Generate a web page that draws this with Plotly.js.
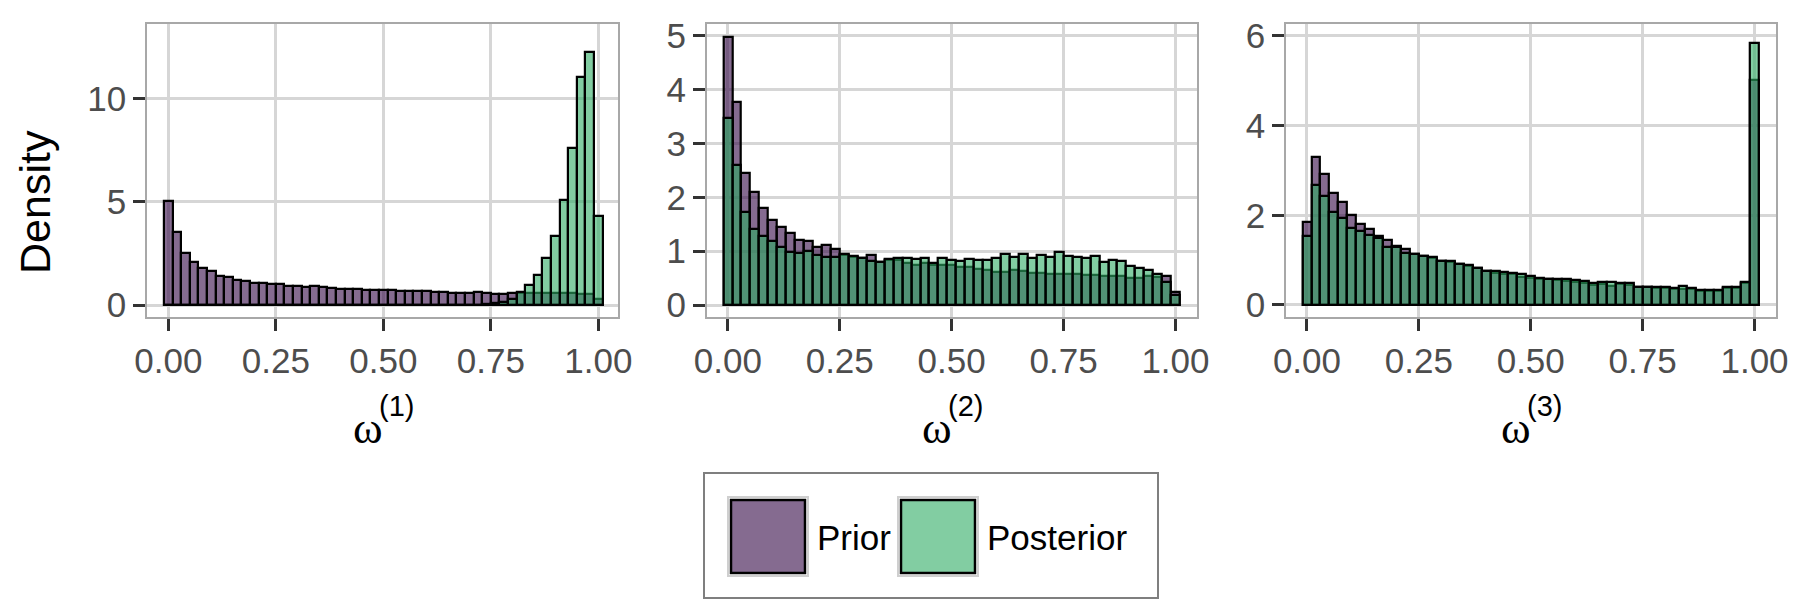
<!DOCTYPE html>
<html>
<head>
<meta charset="utf-8">
<script src="https://cdn.plot.ly/plotly-3.0.1.min.js"></script>
<style>html,body{margin:0;padding:0;background:#fff;}#chart{width:1800px;height:600px;}</style>
</head>
<body>
<div id="chart"></div>
<script>
// Bin centres (bin width 0.02)
const bins = [0,0.02,0.04,0.06,0.08,0.1,0.12,0.14,0.16,0.18,0.2,0.22,0.24,0.26,0.28,0.3,0.32,0.34,0.36,0.38,0.4,0.42,0.44,0.46,0.48,0.5,0.52,0.54,0.56,0.58,0.6,0.62,0.64,0.66,0.68,0.7,0.72,0.74,0.76,0.78,0.8,0.82,0.84,0.86,0.88,0.9,0.92,0.94,0.96,0.98,1];

// omega^(1)
const prior1 = [5.03,3.55,2.53,2.06,1.77,1.66,1.40,1.35,1.21,1.15,1.08,1.06,1.02,1.00,0.94,0.90,0.87,0.90,0.85,0.82,0.79,0.76,0.76,0.73,0.73,0.71,0.71,0.68,0.68,0.66,0.66,0.65,0.63,0.60,0.60,0.60,0.61,0.60,0.55,0.53,0.56,0.60,0.58,0.58,0.57,0.57,0.56,0.56,0.55,0.54,0.30];
const post1  = [0,0,0,0,0,0,0,0,0,0,0,0,0,0,0,0,0,0,0,0,0,0,0,0,0,0,0,0,0,0,0,0,0,0,0,0,0.02,0.04,0.08,0.16,0.30,0.65,0.97,1.45,2.26,3.34,5.08,7.60,11.02,12.23,4.32];

// omega^(2)
const prior2 = [4.97,3.77,2.45,2.09,1.80,1.57,1.45,1.34,1.20,1.19,1.07,1.11,1.04,0.92,0.90,0.88,0.93,0.80,0.84,0.83,0.78,0.75,0.78,0.74,0.74,0.74,0.71,0.71,0.67,0.65,0.62,0.61,0.65,0.63,0.59,0.60,0.57,0.57,0.57,0.57,0.56,0.56,0.53,0.54,0.53,0.51,0.50,0.53,0.52,0.54,0.25];
const post2  = [3.47,2.61,1.73,1.42,1.29,1.19,1.07,0.99,0.96,1.01,0.93,0.90,0.89,0.94,0.91,0.87,0.82,0.79,0.85,0.87,0.88,0.86,0.87,0.78,0.88,0.835,0.81,0.85,0.84,0.835,0.87,0.95,0.90,0.94,0.88,0.92,0.90,0.98,0.91,0.885,0.87,0.91,0.80,0.835,0.81,0.72,0.69,0.65,0.57,0.43,0.19];

// omega^(3)
const prior3 = [1.84,3.29,2.92,2.49,2.29,2.01,1.80,1.70,1.54,1.44,1.32,1.24,1.14,1.10,1.05,0.98,0.95,0.92,0.86,0.83,0.76,0.71,0.70,0.69,0.63,0.60,0.59,0.57,0.56,0.53,0.51,0.48,0.45,0.46,0.43,0.46,0.45,0.40,0.39,0.38,0.37,0.36,0.36,0.35,0.32,0.32,0.31,0.37,0.38,0.50,5.01];
const post3  = [1.54,2.68,2.42,2.07,1.93,1.71,1.64,1.55,1.49,1.30,1.30,1.15,1.14,1.10,1.06,0.97,0.98,0.91,0.89,0.83,0.76,0.75,0.74,0.72,0.68,0.65,0.61,0.58,0.58,0.58,0.56,0.54,0.50,0.52,0.51,0.48,0.48,0.41,0.41,0.39,0.39,0.37,0.43,0.37,0.33,0.33,0.33,0.39,0.41,0.52,5.85];

const seriesNames = ['Prior','Posterior'];
const axisSymbol = 'ω';
const axisSuper = ['(1)','(2)','(3)'];
const yLabel = 'Density';
const xTickVals = [0,0.25,0.5,0.75,1];
const xTickText = ['0.00','0.25','0.50','0.75','1.00'];
const yTicks1 = [0,5,10];
const yTicks2 = [0,1,2,3,4,5];
const yTicks3 = [0,2,4,6];

const PRIOR_FILL = 'rgba(52,8,70,0.6)';
const POST_FILL  = 'rgba(47,172,100,0.6)';
const W = 1800, H = 600;
const SANS = 'Liberation Sans, Arial, sans-serif';

const panels = [
  {p: prior1, q: post1, yt: yTicks1},
  {p: prior2, q: post2, yt: yTicks2},
  {p: prior3, q: post3, yt: yTicks3}
];

const traces = [];
panels.forEach((pn, i) => {
  const xa = i === 0 ? 'x' : 'x' + (i + 1);
  const ya = i === 0 ? 'y' : 'y' + (i + 1);
  traces.push({type:'bar', x: bins, y: pn.p, xaxis: xa, yaxis: ya, width: 0.02, name: seriesNames[0],
    showlegend: false, marker: {color: PRIOR_FILL, line: {color: '#000', width: 2.2}}, hoverinfo: 'x+y+name'});
  traces.push({type:'bar', x: bins, y: pn.q, xaxis: xa, yaxis: ya, width: 0.02, name: seriesNames[1],
    showlegend: false, marker: {color: POST_FILL, line: {color: '#000', width: 2.2}}, hoverinfo: 'x+y+name'});
});

// panel geometry in pixels
const geo = [
  {x0: 147, x1: 618, xr: [-0.0495, 1.0458], yr: [-0.58, 13.6]},
  {x0: 706.8, x1: 1196.5, xr: [-0.047, 1.047], yr: [-0.223, 5.22]},
  {x0: 1285.9, x1: 1776, xr: [-0.047, 1.048], yr: [-0.268, 6.265]}
];
const yTop = 24, yBot = 317;
const px = v => v / W, py = v => 1 - v / H;

const tickFont = {family: SANS, size: 35, color: '#4D4D4D'};
const layout = {
  width: W, height: H,
  margin: {l: 0, r: 0, t: 0, b: 0, pad: 0},
  paper_bgcolor: '#fff', plot_bgcolor: '#fff',
  barmode: 'overlay', bargap: 0,
  showlegend: false,
  font: {family: SANS, color: '#000'},
  annotations: [], shapes: []
};

geo.forEach((g, i) => {
  const sfx = i === 0 ? '' : String(i + 1);
  layout['xaxis' + sfx] = {
    domain: [g.x0 / W, g.x1 / W], range: g.xr, anchor: 'y' + sfx,
    tickvals: xTickVals, ticktext: xTickText,
    ticks: 'outside', ticklen: 12, tickwidth: 3, tickcolor: '#333333',
    showgrid: true, gridcolor: '#D6D6D6', gridwidth: 3.3, zeroline: false,
    showline: true, mirror: true, linecolor: '#A8A8A8', linewidth: 1.5,
    tickfont: tickFont, automargin: false
  };
  layout['yaxis' + sfx] = {
    domain: [1 - yBot / H, 1 - yTop / H], range: g.yr, anchor: 'x' + sfx,
    tickvals: panels[i].yt,
    ticks: 'outside', ticklen: 12, tickwidth: 3, tickcolor: '#333333',
    showgrid: true, gridcolor: '#D6D6D6', gridwidth: 3.3, zeroline: false,
    showline: true, mirror: true, linecolor: '#A8A8A8', linewidth: 1.5,
    tickfont: tickFont, automargin: false
  };
  // x-axis title: omega with a raised panel index
  const cx = (g.x0 + g.x1) / 2;
  layout.annotations.push({text: axisSymbol, xref: 'paper', yref: 'paper', x: px(cx + 1), y: py(428),
    xanchor: 'right', yanchor: 'middle', showarrow: false, borderpad: 0,
    font: {family: 'Liberation Serif, DejaVu Serif, serif', size: 45, color: '#000'}});
  layout.annotations.push({text: axisSuper[i], xref: 'paper', yref: 'paper', x: px(cx - 5), y: py(406),
    xanchor: 'left', yanchor: 'middle', showarrow: false, borderpad: 0,
    font: {family: SANS, size: 29, color: '#000'}});
});

// shared y label
layout.annotations.push({text: yLabel, xref: 'paper', yref: 'paper', x: px(35), y: py(202),
  xanchor: 'center', yanchor: 'middle', textangle: -90, showarrow: false,
  font: {family: SANS, size: 43, color: '#000'}});

// legend drawn as a boxed key row
layout.shapes.push({type: 'rect', xref: 'paper', yref: 'paper', x0: px(704), x1: px(1158), y0: py(598), y1: py(473),
  line: {color: '#7F7F7F', width: 2}, fillcolor: 'rgba(0,0,0,0)'});
const keys = [
  {x0: 731, fill: PRIOR_FILL, label: seriesNames[0], tx: 815},
  {x0: 901, fill: POST_FILL, label: seriesNames[1], tx: 985}
];
keys.forEach(k => {
  layout.shapes.push({type: 'rect', xref: 'paper', yref: 'paper', x0: px(k.x0 - 3), x1: px(k.x0 + 77), y0: py(576), y1: py(497),
    line: {color: '#CFCFCF', width: 2}, fillcolor: '#fff'});
  layout.shapes.push({type: 'rect', xref: 'paper', yref: 'paper', x0: px(k.x0), x1: px(k.x0 + 74), y0: py(573), y1: py(500),
    line: {color: '#000', width: 2.5}, fillcolor: k.fill});
  layout.annotations.push({text: k.label, xref: 'paper', yref: 'paper', x: px(k.tx), y: py(537),
    xanchor: 'left', yanchor: 'middle', showarrow: false,
    font: {family: SANS, size: 35, color: '#000'}});
});

Plotly.newPlot('chart', traces, layout, {displayModeBar: false, responsive: false});
</script>
</body>
</html>
